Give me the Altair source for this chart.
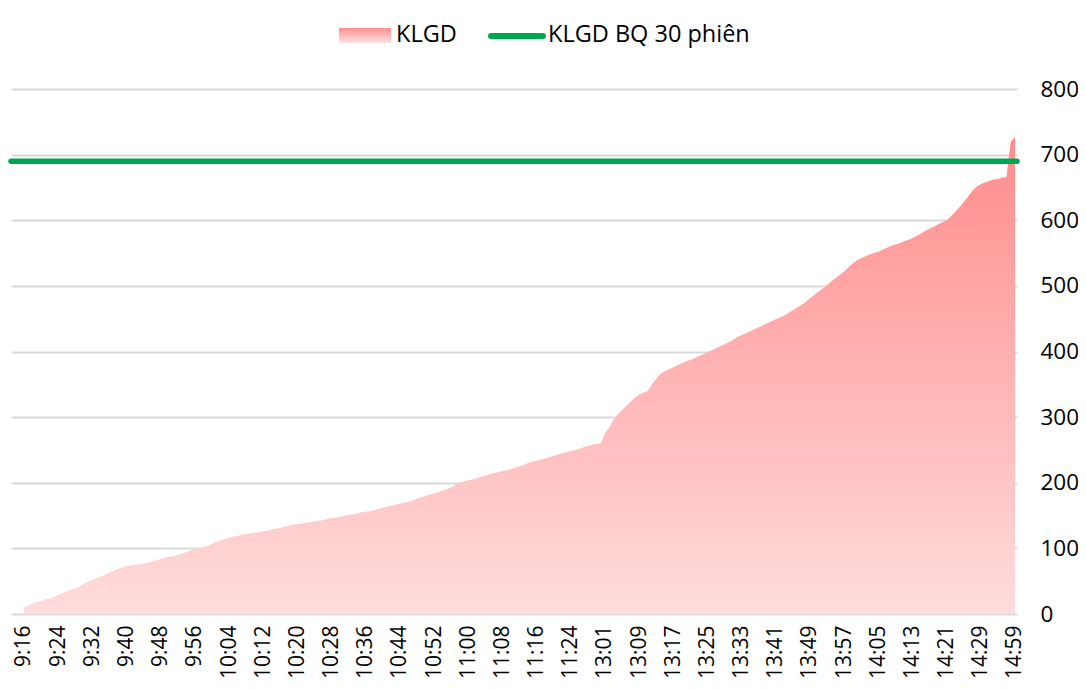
import altair as alt
import pandas as pd

# ---- data -------------------------------------------------------------
times = []
for h, m0, m1 in [(9, 16, 59), (10, 0, 59), (11, 0, 30), (13, 0, 59), (14, 0, 29)]:
    for m in range(m0, m1 + 1):
        times.append(f"{h}:{m:02d}")
times += ["14:30", "14:31", "14:32", "14:33", "14:34", "14:35", "14:45", "14:59"]

klgd = [
    10, 13, 16, 18, 20, 22, 24, 26,
    29, 32, 35, 37, 39, 42, 46, 49,
    52, 55, 57, 60, 63, 66, 69, 71,
    73, 74, 75, 76, 77, 78, 80, 82,
    84, 86, 87, 88, 90, 92, 94, 97,
    99, 100, 102, 104, 107, 110, 112, 114,
    116, 118, 119, 121, 122, 123, 124, 125,
    126, 127, 129, 130, 131, 133, 134, 136,
    137, 138, 139, 140, 141, 142, 143, 145,
    146, 147, 148, 150, 151, 152, 153, 155,
    156, 157, 158, 160, 162, 164, 165, 167,
    168, 170, 171, 173, 176, 178, 180, 182,
    184, 186, 188, 190, 193, 197, 200, 202,
    204, 205, 207, 209, 211, 213, 215, 216,
    218, 219, 221, 223, 225, 227, 230, 232,
    234, 235, 237, 239, 241, 243, 245, 247,
    248, 250, 252, 254, 256, 258, 259,
    260,
    276, 284, 296, 304, 311, 317, 323, 330,
    334, 337, 340, 350, 358, 366, 370, 373,
    376, 379, 382, 385, 387, 390, 393, 396,
    399, 402, 405, 408, 411, 414, 418, 422,
    425, 428, 431, 434, 437, 440, 443, 446,
    449, 452, 455, 459, 463, 467, 471, 476,
    481, 486, 491, 496, 501, 507, 512, 517,
    522, 528, 534, 539, 542, 545, 548, 550,
    552, 555, 558, 561, 563, 565, 568, 570,
    573, 576, 580, 584, 587, 590, 594, 597,
    600, 606, 613, 620, 628, 636, 645, 651,
    655, 658, 660, 662, 663, 665, 666, 720,
    727,
]
avg30 = 690
series_names = ["KLGD", "KLGD BQ 30 phiên"]
y_ticks = [0, 100, 200, 300, 400, 500, 600, 700, 800]

assert len(times) == len(klgd)

df = pd.DataFrame({"idx": list(range(len(times))), "time": times, "v": klgd})
tick_idx = list(range(0, len(times), 8))
label_expr = "[" + ",".join(f"'{t}'" for t in times) + "][datum.value]"

FONT = "Open Sans"
area_grad = alt.Gradient(
    gradient="linear",
    stops=[alt.GradientStop(color="#ff8c8c", offset=0),
           alt.GradientStop(color="#ffdcdc", offset=1)],
    x1=1, x2=1, y1=0, y2=1,
)
legend_grad = alt.Gradient(
    gradient="linear",
    stops=[alt.GradientStop(color="#ff8f8f", offset=0),
           alt.GradientStop(color="#ffe2e2", offset=1)],
    x1=1, x2=1, y1=0, y2=1,
)

x_enc = alt.X(
    "idx:Q",
    scale=alt.Scale(domain=[-3.04, 232.47], nice=False, zero=False),
    axis=alt.Axis(values=tick_idx, labelExpr=label_expr, labelAngle=270,
                  ticks=False, domain=False, grid=False, labelPadding=11,
                  labelFontSize=21, labelFont=FONT, labelColor="#000000",
                  labelOverlap=False, labelFlush=False, labelBound=False, title=None),
)
y_enc = alt.Y(
    "v:Q",
    scale=alt.Scale(domain=[0, 800], nice=False),
    axis=alt.Axis(orient="right", values=y_ticks, ticks=False, domain=False,
                  labelPadding=23, labelFontSize=22.5, labelFont=FONT,
                  labelColor="#000000", gridColor="#d9d9d9", gridWidth=2,
                  title=None),
)

area = alt.Chart(df).mark_area(color=area_grad, interpolate="linear").encode(x=x_enc, y=y_enc)

avg_line = alt.Chart(pd.DataFrame({"avg": [avg30]})).mark_rule(
    color="#00a651", strokeWidth=5.5, strokeCap="round"
).encode(y=alt.Y("avg:Q"))

one = pd.DataFrame({"name": series_names})
leg_rect = alt.Chart(one.iloc[[0]]).mark_rect(color=legend_grad).encode(
    x=alt.value(328), x2=alt.value(380), y=alt.value(-61), y2=alt.value(-46))
leg_text1 = alt.Chart(one.iloc[[0]]).mark_text(
    align="left", baseline="middle", fontSize=23.5, font=FONT, color="#000000"
).encode(x=alt.value(385), y=alt.value(-54), text="name:N")
leg_line = alt.Chart(one.iloc[[1]]).mark_rule(
    color="#00a651", strokeWidth=6, strokeCap="round"
).encode(x=alt.value(480), x2=alt.value(532), y=alt.value(-53))
leg_text2 = alt.Chart(one.iloc[[1]]).mark_text(
    align="left", baseline="middle", fontSize=23.5, font=FONT, color="#000000"
).encode(x=alt.value(537), y=alt.value(-54), text="name:N")

chart = alt.layer(area, avg_line, leg_rect, leg_text1, leg_line, leg_text2).properties(
    width=1006, height=525,
    autosize=alt.AutoSizeParams(type="none"),
    padding={"left": 3, "top": 81, "right": 61, "bottom": 67},
    background="#ffffff",
).configure_view(stroke=None)

chart.save("out.html", embed_options={"renderer": "svg", "actions": False})
